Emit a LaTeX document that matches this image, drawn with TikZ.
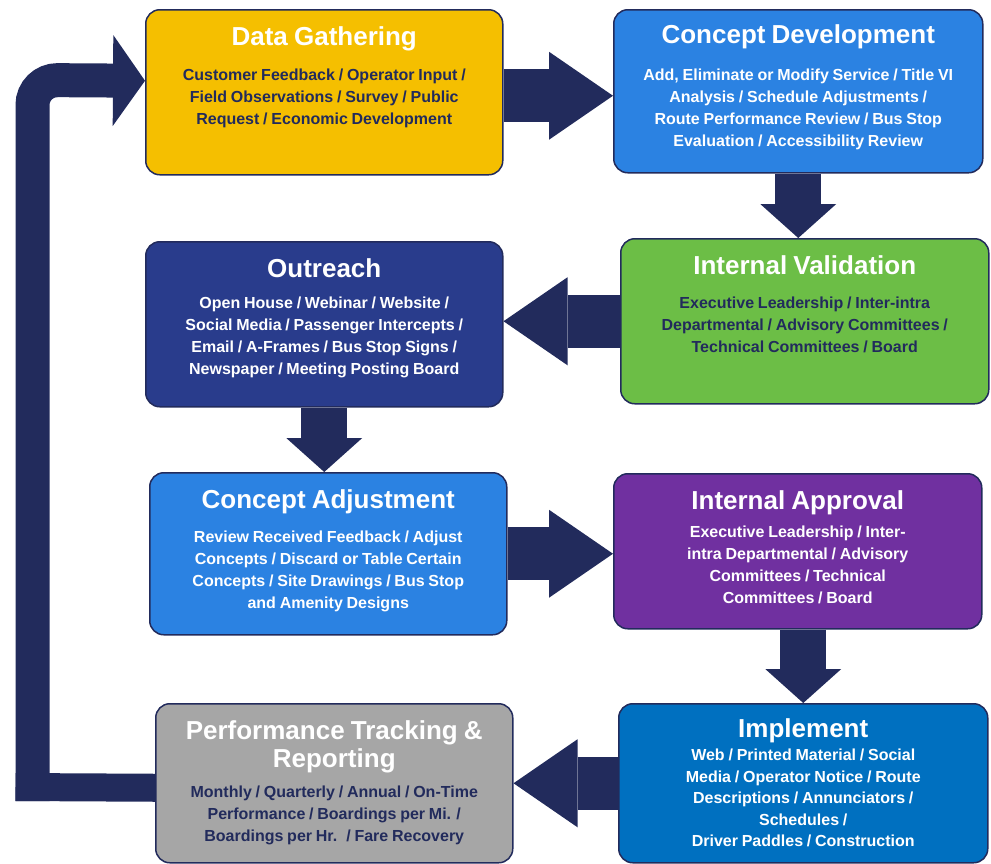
\documentclass[tikz,border=0pt]{standalone}
\usepackage{fontspec}
\setmainfont{Liberation Sans}[WordSpace=0.85]
\usetikzlibrary{arrows.meta,positioning,calc}

\definecolor{gold}{RGB}{245,191,0}
\definecolor{conceptblue}{RGB}{43,130,226}
\definecolor{validgreen}{RGB}{108,190,70}
\definecolor{outreachblue}{RGB}{41,60,140}
\definecolor{approvalpurple}{RGB}{112,48,160}
\definecolor{trackgray}{RGB}{166,166,166}
\definecolor{implblue}{RGB}{0,112,192}
\definecolor{navy}{RGB}{34,43,92}

\newcommand{\stagetitle}[1]{{\color{white}\fontsize{26}{28}\selectfont #1}}

\tikzset{
  stage/.style={draw=navy, line width=1.5pt, rounded corners=14pt, anchor=north west, inner sep=0pt},
  stagetext/.style={anchor=north, inner sep=0pt, text width=350pt, align=flush center, text=white,
    font=\bfseries\fontsize{16}{22}\selectfont},
  hflow/.style={navy, line width=53pt, -{Triangle[width=88pt 0,length=64pt 0,line width=0pt 0]}},
  vflow/.style={navy, line width=46pt, -{Triangle[width=76pt 0,length=34pt 0,line width=0pt 0]}},
  backflow/.style={navy, line width=34pt, -{Triangle[width=91pt 0,length=32pt 0,line width=0pt 0]}},
}

\begin{document}
\begin{tikzpicture}[x=1pt,y=-1pt]
\useasboundingbox (0,0) rectangle (991,863);

% stage boxes
\node[stage, fill=gold, minimum width=357pt, minimum height=165pt] (dg) at (145,9) {};
\node[stage, fill=conceptblue, minimum width=369pt, minimum height=163pt] (cd) at (613,9) {};
\node[stage, fill=outreachblue, minimum width=357pt, minimum height=165pt] (out) at (145,241) {};
\node[stage, fill=validgreen, minimum width=368pt, minimum height=165pt] (iv) at (620,238) {};
\node[stage, fill=conceptblue, minimum width=357pt, minimum height=162pt] (ca) at (149,472) {};
\node[stage, fill=approvalpurple, minimum width=368pt, minimum height=155pt] (ia) at (613,473) {};
\node[stage, fill=trackgray, minimum width=357pt, minimum height=159pt] (perf) at (155,703) {};
\node[stage, fill=implblue, minimum width=369pt, minimum height=159pt] (imp) at (618,703) {};

% texts
\node[stagetext, text=navy] (dgtxt) at ([yshift=-17pt]dg.north)
  {\stagetitle{Data Gathering}\\[13pt]
   Customer Feedback / Operator Input /\\
   Field Observations / Survey / Public\\
   Request / Economic Development};
\node[stagetext] (cdtxt) at ([yshift=-15pt]cd.north)
  {\stagetitle{Concept Development}\\[15pt]
   Add, Eliminate or Modify Service / Title VI\\
   Analysis / Schedule Adjustments /\\
   Route Performance Review / Bus Stop\\
   Evaluation / Accessibility Review};
\node[stagetext] (outtxt) at ([yshift=-17pt]out.north)
  {\stagetitle{Outreach}\\[9pt]
   Open House / Webinar / Website /\\
   Social Media / Passenger Intercepts /\\
   Email / A-Frames / Bus Stop Signs /\\
   Newspaper / Meeting Posting Board};
\node[stagetext, text=navy] (ivtxt) at ([yshift=-17pt]iv.north)
  {\stagetitle{Internal Validation}\\[12pt]
   Executive Leadership / Inter-intra\\
   Departmental / Advisory Committees /\\
   Technical Committees / Board};
\node[stagetext] (catxt) at ([yshift=-17pt]ca.north)
  {\stagetitle{Concept Adjustment}\\[12pt]
   Review Received Feedback / Adjust\\
   Concepts / Discard or Table Certain\\
   Concepts / Site Drawings / Bus Stop\\
   and Amenity Designs};
\node[stagetext] (iatxt) at ([yshift=-17pt]ia.north)
  {\stagetitle{Internal Approval}\\[6pt]
   Executive Leadership / Inter-\\
   intra Departmental / Advisory\\
   Committees / Technical\\
   Committees / Board};
\node[stagetext, text=navy] (perftxt) at ([yshift=-17pt]perf.north)
  {\stagetitle{Performance Tracking \&}\\[3pt]
   \stagetitle{Reporting}\\[8pt]
   Monthly / Quarterly / Annual / On-Time\\
   Performance / Boardings per Mi. /\\
   Boardings per Hr. \ / Fare Recovery};
\node[stagetext, font=\bfseries\fontsize{16}{21.5}\selectfont] (imptxt) at ([yshift=-15pt]imp.north)
  {\stagetitle{Implement}\\[2pt]
   Web / Printed Material / Social\\
   Media / Operator Notice / Route\\
   Descriptions / Annunciators /\\
   Schedules /\\
   Driver Paddles / Construction};

% flow arrows
\draw[hflow] ([yshift=-3.5pt]dg.east) -- ([yshift=-3.5pt]dg.east -| cd.west);
\draw[vflow] (cd.south) -- (cd.south |- iv.north);
\draw[hflow] (iv.west) -- (iv.west -| out.east);
\draw[vflow] (out.south) -- (out.south |- ca.north);
\draw[hflow] (ca.east) -- (ca.east -| ia.west);
\draw[vflow] (ia.south -| imp.north) -- (imp.north);
\draw[hflow] (imp.west) -- (imp.west -| perf.east);

% loop back to the start
\coordinate (footleft) at (15.5,787);
\coordinate (foot) at (32.5,801);
\coordinate (bend) at (32.5,80);
\draw[navy, line width=28pt] ([yshift=-4.5pt]perf.west) -- (footleft);
\draw[backflow, rounded corners=25pt] (foot) -- (bend) -- ([yshift=11.5pt]dg.west);
\end{tikzpicture}
\end{document}
